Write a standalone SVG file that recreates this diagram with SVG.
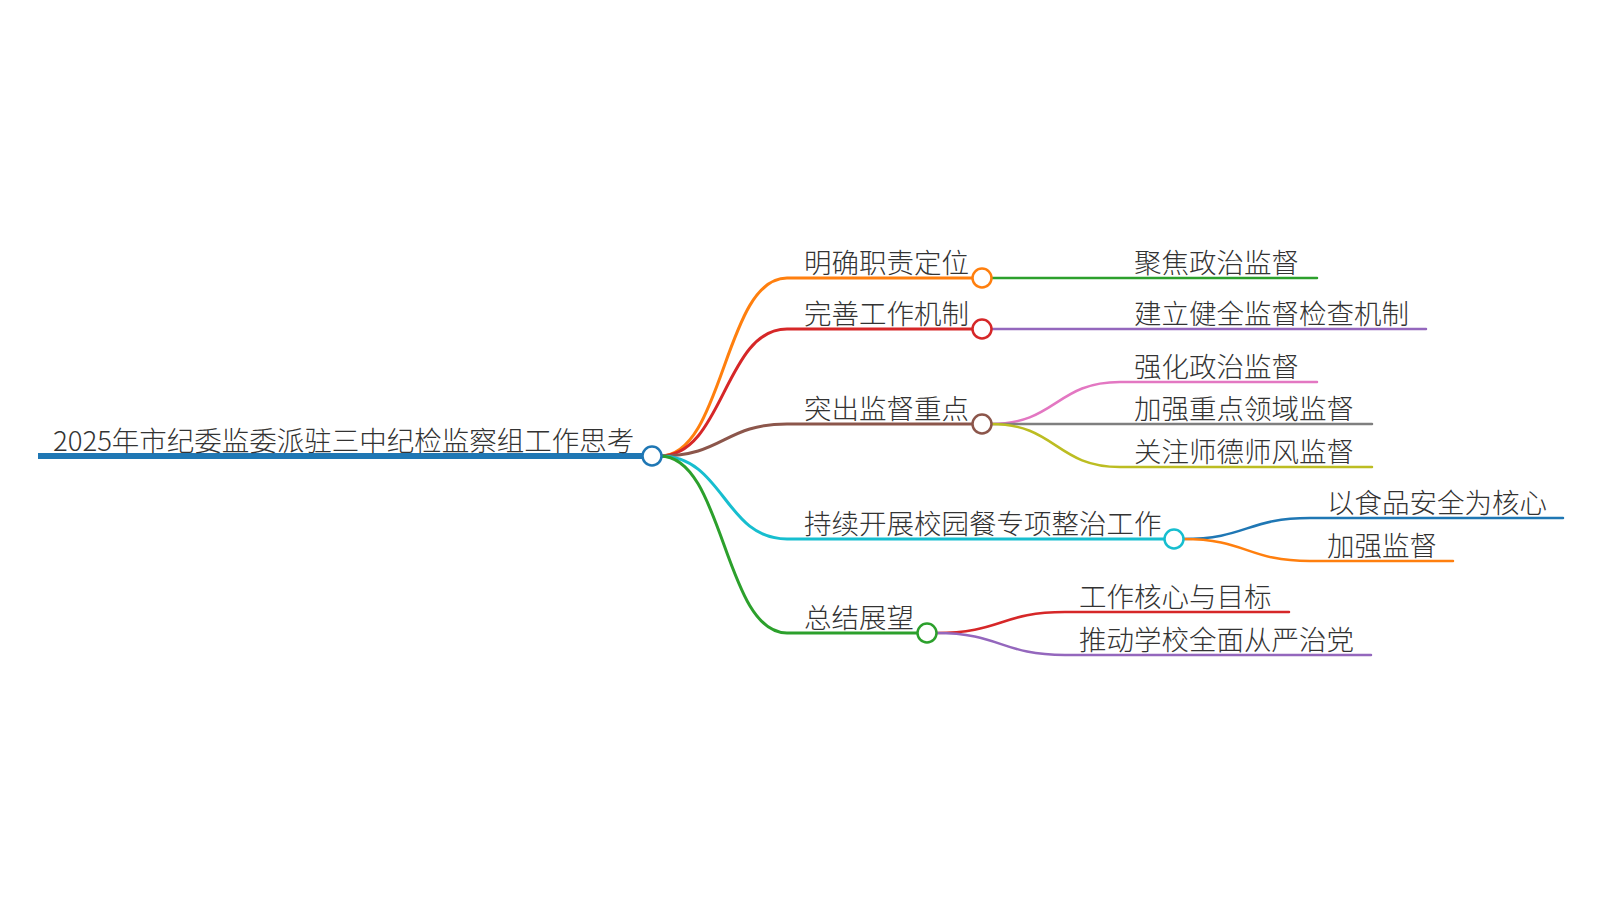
<svg xmlns="http://www.w3.org/2000/svg" width="1600" height="900" viewBox="0 0 1600 900">
<style>
text{font-family:"Noto Sans CJK SC","Noto Sans",sans-serif;font-size:27.5px;font-weight:300;fill:#333}
.l{fill:none;stroke-linecap:round}
.b{stroke-width:3}
.c{stroke-width:2.5}
circle{fill:#fff;stroke-width:2.5}
</style>
<rect width="1600" height="900" fill="#fff"/>
<g id="connectors">
<path class="l b" stroke="#ff7f0e" d="M660 456 C724 456 724 278 787 278 H972"/>
<path class="l b" stroke="#d62728" d="M660 456 C724 456 724 329 787 329 H972"/>
<path class="l b" stroke="#8c564b" d="M660 456 C724 456 724 424 787 424 H972"/>
<path class="l b" stroke="#17becf" d="M660 456 C724 456 724 539 787 539 H1164"/>
<path class="l b" stroke="#2ca02c" d="M660 456 C724 456 724 633 787 633 H917"/>
<path class="l c" stroke="#2ca02c" d="M991 278 H1317"/>
<path class="l c" stroke="#9467bd" d="M991 329 H1426"/>
<path class="l c" stroke="#e377c2" d="M991 424 C1056 424 1056 382 1120 382 H1317"/>
<path class="l c" stroke="#7f7f7f" d="M991 424 H1372"/>
<path class="l c" stroke="#bcbd22" d="M991 424 C1056 424 1056 467 1120 467 H1372"/>
<path class="l c" stroke="#1f77b4" d="M1183 539 C1247 539 1247 518 1310 518 H1563"/>
<path class="l c" stroke="#ff7f0e" d="M1183 539 C1247 539 1247 561 1310 561 H1453"/>
<path class="l c" stroke="#d62728" d="M936 633 C1001 633 1001 612 1065 612 H1289"/>
<path class="l c" stroke="#9467bd" d="M936 633 C1001 633 1001 655 1065 655 H1371"/>
</g>
<g id="root">
<path d="M38 456 H643" stroke="#1f77b4" stroke-width="6"/>
<text x="53" y="451">2025年市纪委监委派驻三中纪检监察组工作思考</text>
<circle cx="652" cy="456" r="9.5" stroke="#1f77b4"/>
</g>
<g id="n1"><text x="804" y="273">明确职责定位</text><circle cx="982" cy="278" r="9.5" stroke="#ff7f0e"/></g>
<g id="n1a"><text x="1134" y="273">聚焦政治监督</text></g>
<g id="n2"><text x="804" y="324">完善工作机制</text><circle cx="982" cy="329" r="9.5" stroke="#d62728"/></g>
<g id="n2a"><text x="1134" y="324">建立健全监督检查机制</text></g>
<g id="n3"><text x="804" y="419">突出监督重点</text><circle cx="982" cy="424" r="9.5" stroke="#8c564b"/></g>
<g id="n3a"><text x="1134" y="377">强化政治监督</text></g>
<g id="n3b"><text x="1134" y="419">加强重点领域监督</text></g>
<g id="n3c"><text x="1134" y="462">关注师德师风监督</text></g>
<g id="n4"><text x="804" y="534">持续开展校园餐专项整治工作</text><circle cx="1174" cy="539" r="9.5" stroke="#17becf"/></g>
<g id="n4a"><text x="1327" y="513">以食品安全为核心</text></g>
<g id="n4b"><text x="1327" y="556">加强监督</text></g>
<g id="n5"><text x="804" y="628">总结展望</text><circle cx="927" cy="633" r="9.5" stroke="#2ca02c"/></g>
<g id="n5a"><text x="1079" y="607">工作核心与目标</text></g>
<g id="n5b"><text x="1079" y="650">推动学校全面从严治党</text></g>
</svg>
